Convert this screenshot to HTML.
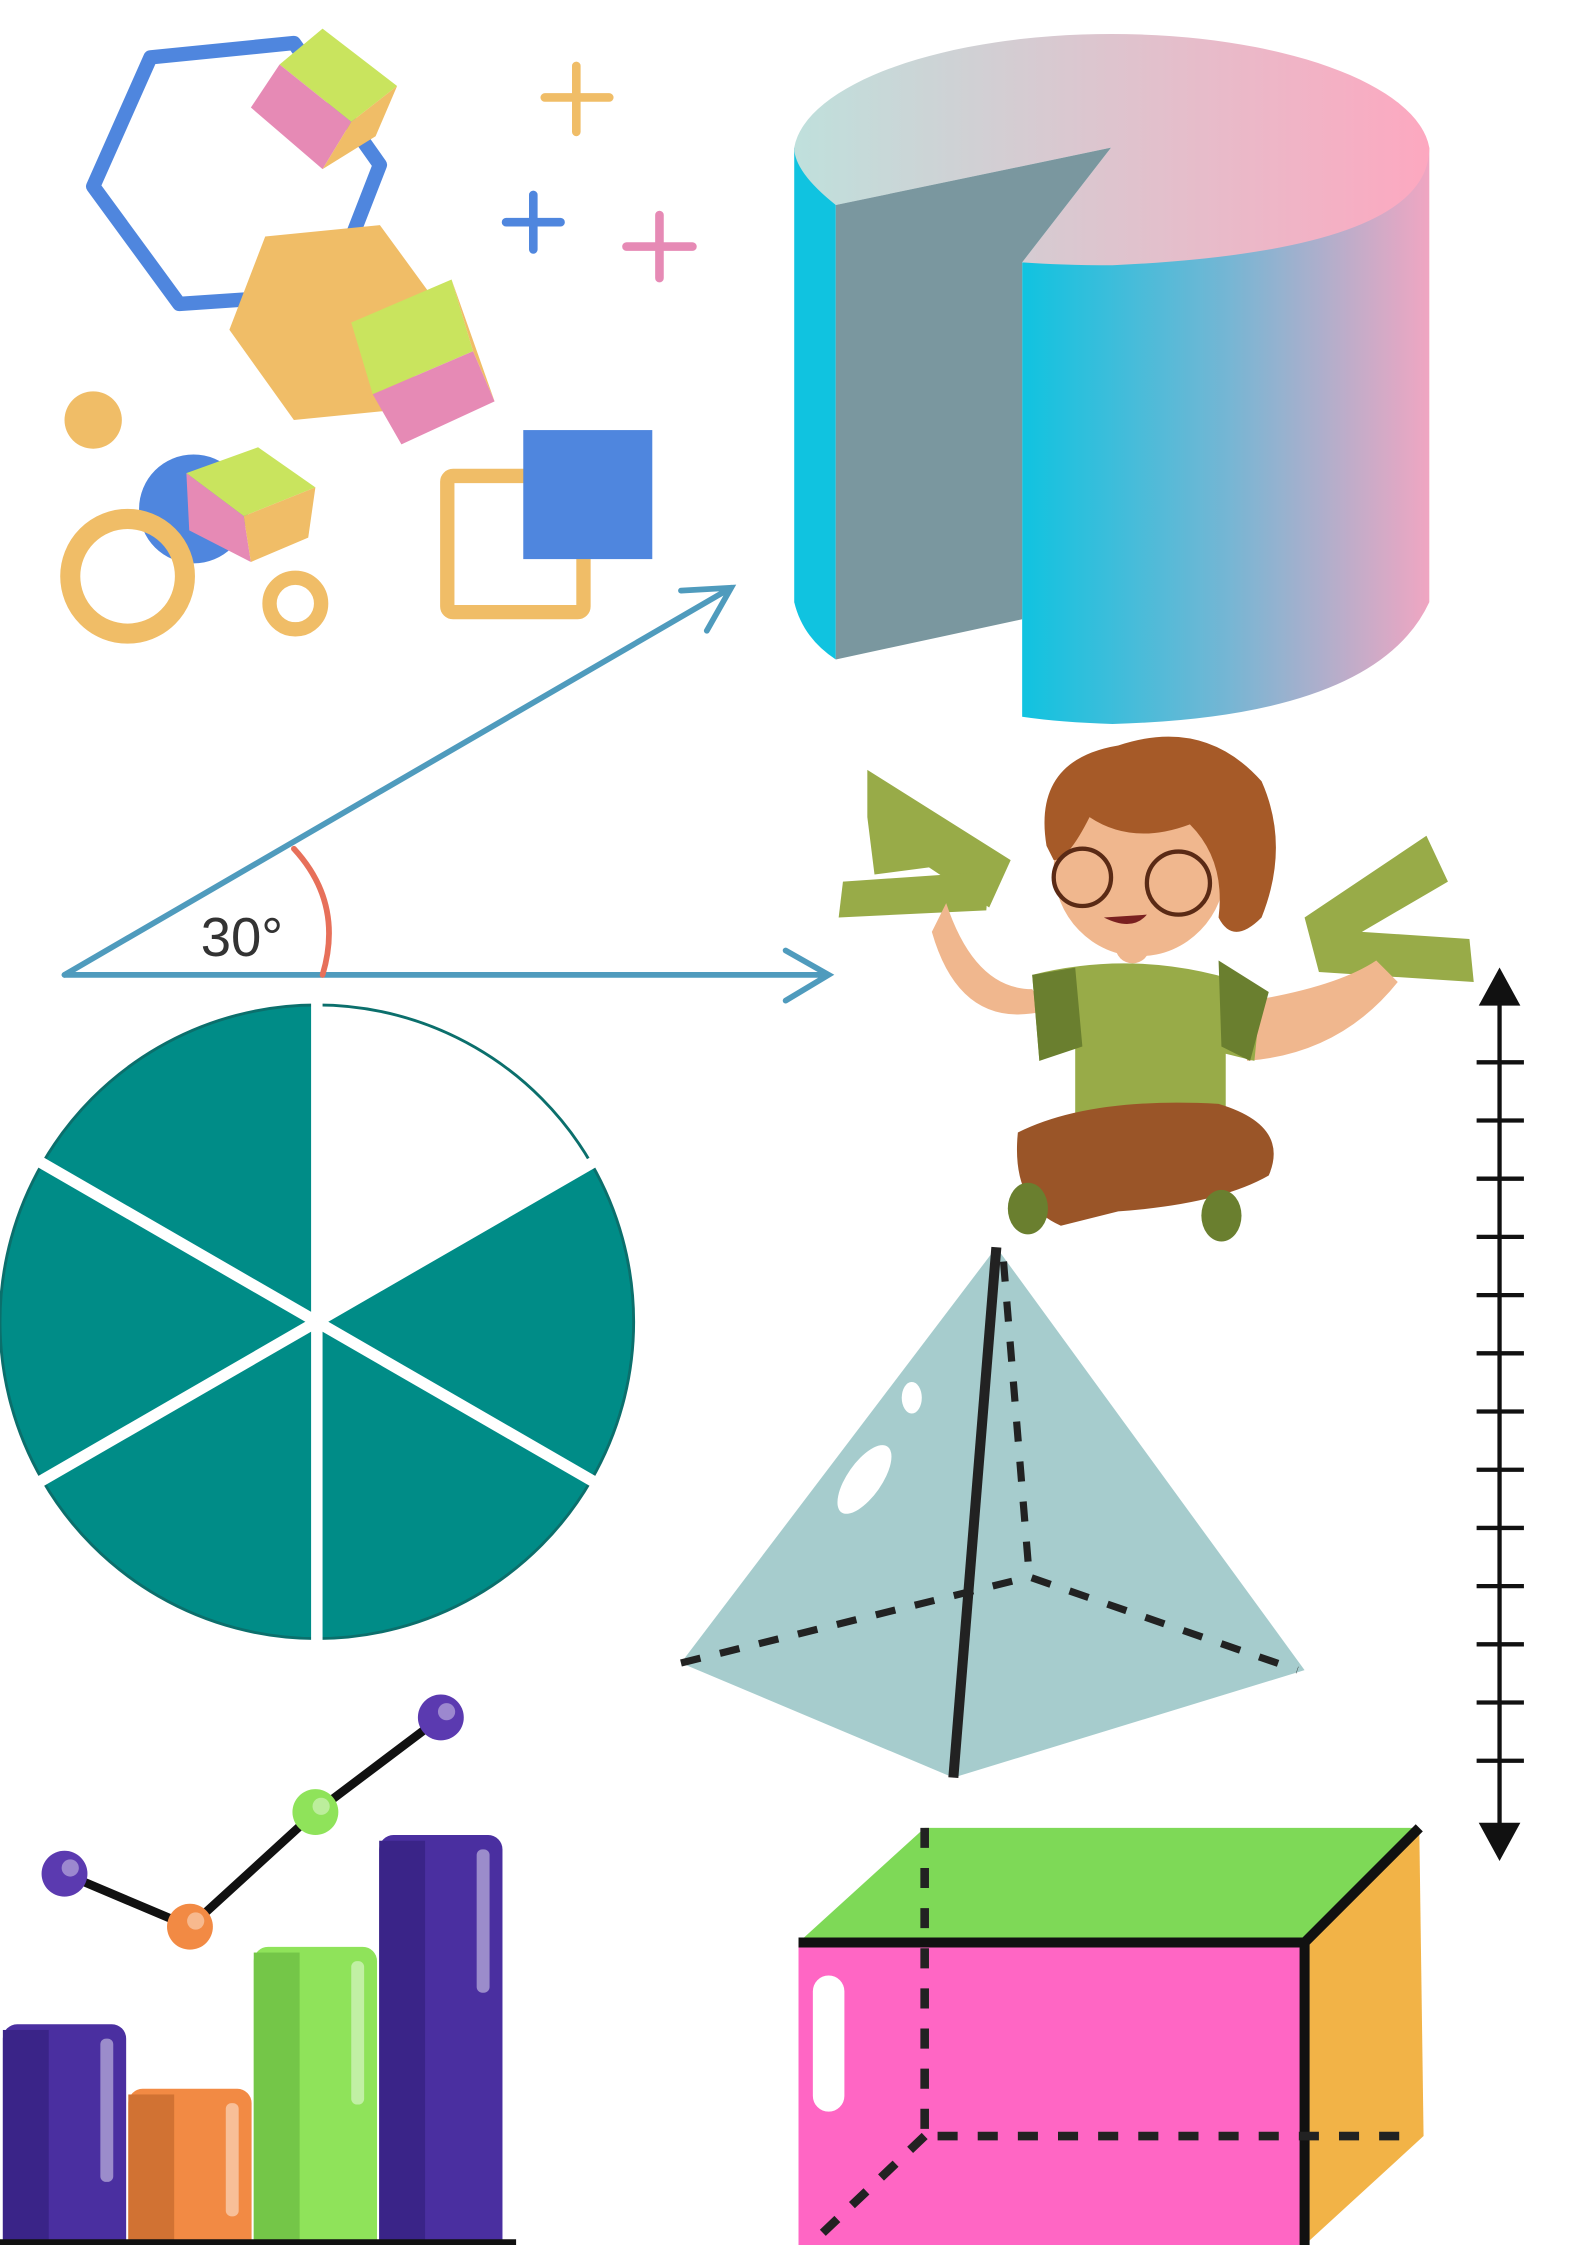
<!DOCTYPE html>
<html><head><meta charset="utf-8"><style>html,body{margin:0;padding:0;background:#fff}svg{display:block}</style></head>
<body>
<svg width="1587" height="2245" viewBox="0 0 1107 1566" preserveAspectRatio="none" xmlns="http://www.w3.org/2000/svg">
<defs>
<linearGradient id="gTop" x1="0" y1="0" x2="1" y2="0"><stop offset="0" stop-color="#bfe0dc"/><stop offset="1" stop-color="#fda8c0"/></linearGradient>
<linearGradient id="gBody" x1="0" y1="0" x2="1" y2="0"><stop offset="0" stop-color="#10c3e0"/><stop offset="0.5" stop-color="#74b6d4"/><stop offset="1" stop-color="#f0a6c2"/></linearGradient>
</defs>
<rect width="1107" height="1566" fill="#fff"/>
<g>
<polygon points="105,40 205,30 265,115 230,205 125,212 65,130" fill="none" stroke="#4f86de" stroke-width="10" stroke-linejoin="round"/>
<polygon points="160,230 185,165 265,157 300,205 285,285 205,293" fill="#f0bd67"/>
<polygon points="195,45 225,20 277,60 245,85" fill="#c9e45e"/>
<polygon points="175,75 195,45 245,85 225,118" fill="#e68ab5"/>
<polygon points="245,85 277,60 262,95 225,118" fill="#f0bd67"/>
<polygon points="245,225 315,195 330,245 260,275" fill="#c9e45e"/>
<polygon points="260,275 330,245 345,280 280,310" fill="#e68ab5"/>
<polygon points="315,195 345,280 330,245" fill="#f0bd67"/>
<circle cx="65" cy="293" r="20" fill="#f0bd67"/>
<circle cx="135" cy="355" r="38" fill="#4f86de"/>
<circle cx="89" cy="402" r="40" fill="none" stroke="#f0bd67" stroke-width="14"/>
<circle cx="206" cy="421" r="18" fill="none" stroke="#f0bd67" stroke-width="10"/>
<polygon points="130,330 180,312 220,340 170,360" fill="#c9e45e"/>
<polygon points="130,330 170,360 175,392 132,370" fill="#e68ab5"/>
<polygon points="170,360 220,340 215,375 175,392" fill="#f0bd67"/>
<rect x="312" y="332" width="95" height="95" rx="4" fill="none" stroke="#f0bd67" stroke-width="10"/>
<rect x="365" y="300" width="90" height="90" fill="#4f86de"/>
<g stroke-width="6" stroke-linecap="round">
<path d="M402 46V92M380 68H425" stroke="#f0bd67"/>
<path d="M372 136V174M353 155H391" stroke="#4f86de"/>
<path d="M460 150V194M437 172H483" stroke="#e68ab5"/>
</g>
</g>
<g>
<path d="M554 103 L583 143 L583 460 Q560 445 554 420 Z" fill="#10c3e0"/>
<path d="M713 183 Q900 185 997 103 L997 420 Q960 500 776 505 Q740 504 713 500 Z" fill="url(#gBody)"/>
<path d="M583 143 Q554 120 554 103 A222 85 0 0 1 997 103 Q997 175 776 185 Q740 185 713 183 L775 103 Z" fill="url(#gTop)"/>
<polygon points="583,143 775,103 713,183 713,432 583,460" fill="#7a979f"/>
</g>
<g stroke="#4f9bbd" stroke-width="4" fill="none" stroke-linecap="round">
<path d="M45 680 L510 410 M475 412 L510 410 L493 440"/>
<path d="M45 680 L578 680 M548 663 L578 680 L548 698"/>
<path d="M205 592 Q240 630 225 680" stroke="#e7705a"/>
</g>
<text x="140" y="667" font-family="Liberation Sans, sans-serif" font-size="38" fill="#333">30°</text>
<g id="pie"></g>
<g>
<polygon points="605,537 705,600 690,633 648,605 610,610 605,570" fill="#98ab48"/>
<polygon points="588,615 690,608 688,635 585,640" fill="#98ab48"/>
<polygon points="910,640 995,583 1010,615 950,650 1025,655 1028,685 920,678" fill="#98ab48"/>
<path d="M660 630 Q680 690 720 690 L730 705 Q670 720 650 650 Z" fill="#f0b78e"/>
<path d="M860 700 Q930 690 960 670 L975 685 Q935 735 870 740 Z" fill="#f0b78e"/>
<path d="M720 680 Q800 660 880 690 L875 740 L855 735 L855 790 L750 790 L750 730 L725 740 Z" fill="#98ab48"/>
<path d="M720 680 L750 675 L755 730 L725 740 Z M850 670 L885 692 L872 740 L852 730 Z" fill="#6a7f2f"/>
<path d="M710 790 Q760 765 850 770 Q900 785 885 820 Q850 840 780 845 L740 855 Q705 840 710 790 Z" fill="#9a5528"/>
<ellipse cx="717" cy="843" rx="14" ry="18" fill="#6a7f2f"/>
<ellipse cx="852" cy="848" rx="14" ry="18" fill="#6a7f2f"/>
<circle cx="790" cy="660" r="12" fill="#f0b78e"/>
<ellipse cx="795" cy="605" rx="60" ry="62" fill="#f0b78e"/>
<path d="M730 590 Q720 530 780 520 Q840 500 880 545 Q900 590 880 640 Q860 660 850 640 Q855 600 830 575 Q790 590 760 570 Q745 600 735 600 Z" fill="#a65a28"/>
<circle cx="755" cy="612" r="20" fill="none" stroke="#5a2a15" stroke-width="3"/>
<circle cx="822" cy="616" r="22" fill="none" stroke="#5a2a15" stroke-width="3"/>
<path d="M770 640 Q790 650 800 638 Z" fill="#7a2020"/>
</g>
<g>
<polygon points="695,870 910,1165 665,1240 475,1160" fill="#a6cccd"/>
<path d="M695 870 L665 1240" stroke="#222" stroke-width="7"/>
<path d="M700 880 L718 1100 M475 1160 L718 1100 L905 1165" stroke="#222" stroke-width="5" stroke-dasharray="14 14" fill="none"/>
<ellipse cx="603" cy="1032" rx="12" ry="28" transform="rotate(35 603 1032)" fill="#fff"/>
<ellipse cx="636" cy="975" rx="7" ry="11" fill="#fff"/>
</g>
<g id="nl" stroke="#111" stroke-width="3">
<path d="M1046 690 V1282"/>
<polygon points="1046,678 1034,700 1058,700" fill="#111"/>
<polygon points="1046,1295 1034,1273 1058,1273" fill="#111"/>
</g>
<g>
<polygon points="557,1355 645,1275 990,1275 910,1355" fill="#7ed957"/>
<polygon points="910,1355 990,1275 993,1490 910,1566" fill="#f2b347"/>
<rect x="557" y="1355" width="353" height="211" fill="#ff66c4"/>
<path d="M557 1355 H910 L990 1275 M910 1355 V1566" stroke="#111" stroke-width="7" fill="none"/>
<path d="M645 1275 V1490 H990 M645 1490 L565 1566" stroke="#222" stroke-width="6" stroke-dasharray="14 14" fill="none"/>
<rect x="567" y="1378" width="22" height="95" rx="11" fill="#fff"/>
</g>
<g id="chart"></g>
</svg>
<script>
const barCategories=["b1","b2","b3","b4"];
const barValues=[144,99,198,276];
const barColors=["#4a2fa0","#f28a44","#8fe35a","#4a2fa0"];
const barShade=["#3a2488","#d17233","#74c648","#3a2488"];
const lineValues=[249,212,292,358];
const lineColors=["#5b3ab0","#f28a44","#8fe35a","#5b3ab0"];
const NS="http://www.w3.org/2000/svg";
const chart=document.getElementById('chart');
const baseY=1556,x0=2,bw=86;
const xs=i=>x0+i*87.5;
const ys=v=>baseY-v;
barValues.forEach((v,i)=>{
 const r=document.createElementNS(NS,'rect');
 
 
 r.setAttribute('x',xs(i));r.setAttribute('y',ys(v));r.setAttribute('width',bw);r.setAttribute('height',v+20);r.setAttribute('rx',10);r.setAttribute('fill',barColors[i]);
 chart.appendChild(r);
 const s=document.createElementNS(NS,'rect');
 
 
 s.setAttribute('x',xs(i));s.setAttribute('y',ys(v)+4);s.setAttribute('width',32);s.setAttribute('height',v+10);s.setAttribute('fill',barShade[i]);
 chart.appendChild(s);
 const h=document.createElementNS(NS,'rect');
 
 
 h.setAttribute('x',xs(i)+68);h.setAttribute('y',ys(v)+10);h.setAttribute('width',9);h.setAttribute('height',Math.min(v-20,100));h.setAttribute('rx',4);h.setAttribute('fill','rgba(255,255,255,0.45)');
 chart.appendChild(h);
});
const ax=document.createElementNS(NS,'path');


ax.setAttribute('d','M0 1566 H360');ax.setAttribute('stroke','#111');ax.setAttribute('stroke-width','8');
chart.appendChild(ax);
const lx=i=>xs(i)+43;
const pl=document.createElementNS(NS,'polyline');


pl.setAttribute('points',lineValues.map((v,i)=>lx(i)+','+ys(v)).join(' '));
pl.setAttribute('fill','none');pl.setAttribute('stroke','#111');pl.setAttribute('stroke-width','6');
chart.appendChild(pl);
lineValues.forEach((v,i)=>{
 const c=document.createElementNS(NS,'circle');
 
 
 c.setAttribute('cx',lx(i));c.setAttribute('cy',ys(v));c.setAttribute('r',16);c.setAttribute('fill',lineColors[i]);
 chart.appendChild(c);
 const d=document.createElementNS(NS,'circle');
 
 
 d.setAttribute('cx',lx(i)+4);d.setAttribute('cy',ys(v)-4);d.setAttribute('r',6);d.setAttribute('fill','rgba(255,255,255,0.4)');
 chart.appendChild(d);
});
const pie=document.getElementById('pie');
const cx=221,cy=922,R=221;
const sliceFill=["#fff","#008c87","#008c87","#008c87","#008c87","#008c87"];
sliceFill.forEach((f,i)=>{
 const a0=(-90+i*60)*Math.PI/180,a1=(-30+i*60)*Math.PI/180;
 const p=document.createElementNS(NS,'path');
 
 
 p.setAttribute('d',`M${cx} ${cy} L${cx+R*Math.cos(a0)} ${cy+R*Math.sin(a0)} A${R} ${R} 0 0 1 ${cx+R*Math.cos(a1)} ${cy+R*Math.sin(a1)} Z`);
 p.setAttribute('fill',f);p.setAttribute('stroke','#0b6f6c');p.setAttribute('stroke-width','2');
 pie.appendChild(p);
});
for(let i=0;i<6;i++){
 const a=(-90+i*60)*Math.PI/180;
 const l=document.createElementNS(NS,'line');
 
 
 l.setAttribute('x1',cx);l.setAttribute('y1',cy);l.setAttribute('x2',cx+(R+3)*Math.cos(a));l.setAttribute('y2',cy+(R+3)*Math.sin(a));
 l.setAttribute('stroke','#fff');l.setAttribute('stroke-width','8');
 pie.appendChild(l);
}
const nl=document.getElementById('nl');
for(let i=0;i<13;i++){
 const y=741+i*40.6;
 const t=document.createElementNS(NS,'line');
 
 
 t.setAttribute('x1',1030);t.setAttribute('x2',1063);t.setAttribute('y1',y);t.setAttribute('y2',y);
 nl.appendChild(t);
}
</script>
</body></html>
